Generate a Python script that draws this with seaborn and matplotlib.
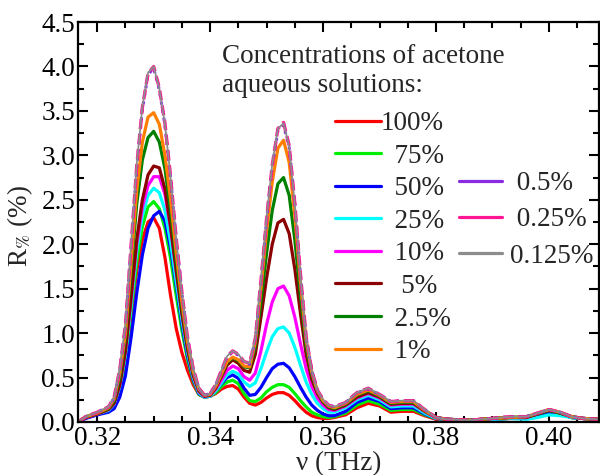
import numpy as np
import pandas as pd
import matplotlib
matplotlib.use('Agg')
import matplotlib.pyplot as plt
import seaborn as sns
from matplotlib.lines import Line2D
from matplotlib.ticker import MultipleLocator, FormatStrFormatter

# frequency grid (THz) and reflectance R% for each acetone concentration
freq = [0.3166, 0.318, 0.320, 0.322, 0.323, 0.324, 0.325, 0.326, 0.327, 0.328,
        0.329, 0.330, 0.331, 0.332, 0.333, 0.334, 0.335, 0.336, 0.337, 0.338,
        0.339, 0.340, 0.341, 0.342, 0.343, 0.344, 0.345, 0.346, 0.347, 0.348,
        0.349, 0.350, 0.351, 0.352, 0.353, 0.354, 0.355, 0.356, 0.357, 0.358,
        0.359, 0.360, 0.361, 0.362, 0.364, 0.366, 0.368, 0.370, 0.372, 0.374,
        0.376, 0.378, 0.380, 0.382, 0.386, 0.390, 0.393, 0.396, 0.398, 0.400,
        0.402, 0.404, 0.406, 0.409]

r_100 = [0.00, 0.05, 0.09, 0.13, 0.19, 0.37, 0.70, 1.20, 1.70, 2.05,
         2.25, 2.30, 2.18, 1.85, 1.42, 1.05, 0.78, 0.58, 0.42, 0.31,
         0.28, 0.29, 0.32, 0.37, 0.40, 0.41, 0.37, 0.28, 0.21, 0.19,
         0.22, 0.27, 0.31, 0.33, 0.33, 0.30, 0.24, 0.17, 0.11, 0.07,
         0.05, 0.04, 0.04, 0.05, 0.08, 0.16, 0.21, 0.18, 0.11, 0.12,
         0.12, 0.07, 0.03, 0.02, 0.02, 0.03, 0.04, 0.04, 0.08, 0.12,
         0.10, 0.05, 0.04, 0.03]
r_75 = [0.00, 0.05, 0.09, 0.13, 0.19, 0.38, 0.72, 1.25, 1.80, 2.20,
        2.42, 2.48, 2.40, 2.18, 1.84, 1.42, 1.03, 0.70, 0.46, 0.31,
        0.28, 0.29, 0.33, 0.40, 0.45, 0.47, 0.43, 0.32, 0.24, 0.23,
        0.27, 0.34, 0.39, 0.42, 0.42, 0.39, 0.32, 0.24, 0.17, 0.11,
        0.08, 0.06, 0.05, 0.06, 0.10, 0.19, 0.24, 0.20, 0.13, 0.14,
        0.14, 0.08, 0.04, 0.03, 0.02, 0.03, 0.04, 0.04, 0.07, 0.11,
        0.09, 0.05, 0.04, 0.03]
r_50 = [0.00, 0.04, 0.08, 0.11, 0.15, 0.28, 0.52, 0.95, 1.45, 1.88,
        2.18, 2.32, 2.37, 2.26, 1.95, 1.53, 1.10, 0.74, 0.48, 0.32,
        0.28, 0.29, 0.35, 0.43, 0.50, 0.53, 0.49, 0.38, 0.30, 0.31,
        0.39, 0.50, 0.60, 0.65, 0.66, 0.61, 0.51, 0.39, 0.28, 0.19,
        0.13, 0.09, 0.07, 0.07, 0.12, 0.22, 0.27, 0.23, 0.15, 0.16,
        0.16, 0.09, 0.04, 0.03, 0.02, 0.03, 0.04, 0.04, 0.07, 0.11,
        0.09, 0.05, 0.04, 0.03]
r_25 = [0.00, 0.05, 0.09, 0.13, 0.20, 0.40, 0.76, 1.32, 1.92, 2.32,
        2.55, 2.63, 2.58, 2.38, 2.02, 1.58, 1.15, 0.78, 0.50, 0.33,
        0.28, 0.29, 0.35, 0.44, 0.53, 0.57, 0.54, 0.45, 0.40, 0.44,
        0.60, 0.79, 0.96, 1.05, 1.07, 1.00, 0.84, 0.64, 0.45, 0.31,
        0.21, 0.15, 0.11, 0.11, 0.16, 0.25, 0.30, 0.25, 0.17, 0.18,
        0.18, 0.10, 0.04, 0.03, 0.02, 0.03, 0.04, 0.03, 0.05, 0.08,
        0.07, 0.05, 0.04, 0.03]
r_10 = [0.00, 0.05, 0.09, 0.14, 0.21, 0.42, 0.80, 1.38, 2.00, 2.42,
        2.66, 2.76, 2.76, 2.56, 2.18, 1.70, 1.22, 0.82, 0.52, 0.34,
        0.29, 0.30, 0.37, 0.47, 0.58, 0.63, 0.60, 0.51, 0.47, 0.55,
        0.80, 1.10, 1.35, 1.50, 1.53, 1.42, 1.18, 0.88, 0.60, 0.40,
        0.27, 0.19, 0.14, 0.13, 0.18, 0.27, 0.32, 0.27, 0.19, 0.20,
        0.20, 0.12, 0.05, 0.03, 0.02, 0.04, 0.05, 0.05, 0.09, 0.13,
        0.10, 0.06, 0.04, 0.03]
r_5 = [0.00, 0.05, 0.09, 0.14, 0.21, 0.42, 0.80, 1.40, 2.05, 2.50,
       2.78, 2.88, 2.86, 2.62, 2.20, 1.70, 1.22, 0.82, 0.53, 0.35,
       0.29, 0.30, 0.38, 0.51, 0.64, 0.70, 0.66, 0.58, 0.56, 0.76,
       1.18, 1.62, 2.00, 2.24, 2.28, 2.12, 1.72, 1.22, 0.76, 0.48,
       0.32, 0.22, 0.16, 0.14, 0.19, 0.28, 0.33, 0.28, 0.20, 0.21,
       0.21, 0.12, 0.05, 0.03, 0.02, 0.04, 0.05, 0.05, 0.09, 0.13,
       0.10, 0.06, 0.04, 0.03]
r_2_5 = [0.00, 0.06, 0.10, 0.15, 0.24, 0.50, 0.95, 1.70, 2.45, 2.95,
         3.20, 3.27, 3.15, 2.85, 2.38, 1.82, 1.30, 0.87, 0.55, 0.36,
         0.30, 0.31, 0.40, 0.53, 0.67, 0.72, 0.69, 0.62, 0.61, 0.85,
         1.35, 1.90, 2.38, 2.68, 2.75, 2.55, 2.05, 1.42, 0.85, 0.53,
         0.34, 0.23, 0.17, 0.15, 0.20, 0.30, 0.35, 0.29, 0.21, 0.22,
         0.22, 0.13, 0.05, 0.03, 0.02, 0.04, 0.05, 0.06, 0.09, 0.13,
         0.10, 0.06, 0.04, 0.03]
r_1 = [0.00, 0.06, 0.10, 0.16, 0.26, 0.55, 1.00, 1.80, 2.60, 3.15,
       3.43, 3.48, 3.35, 3.00, 2.50, 1.90, 1.35, 0.90, 0.57, 0.37,
       0.30, 0.31, 0.40, 0.54, 0.68, 0.73, 0.70, 0.63, 0.62, 0.90,
       1.50, 2.15, 2.70, 3.08, 3.17, 2.92, 2.32, 1.57, 0.92, 0.56,
       0.35, 0.24, 0.18, 0.16, 0.21, 0.31, 0.36, 0.30, 0.22, 0.23,
       0.23, 0.13, 0.05, 0.03, 0.02, 0.04, 0.05, 0.06, 0.10, 0.14,
       0.11, 0.06, 0.04, 0.03]
r_0_5 = [0.00, 0.06, 0.11, 0.17, 0.27, 0.58, 1.08, 1.96, 2.86, 3.52,
         3.91, 3.98, 3.74, 3.34, 2.74, 2.05, 1.45, 0.95, 0.60, 0.38,
         0.30, 0.32, 0.42, 0.57, 0.73, 0.79, 0.75, 0.67, 0.65, 0.93,
         1.57, 2.27, 2.88, 3.28, 3.34, 3.09, 2.45, 1.65, 0.95, 0.58,
         0.36, 0.25, 0.19, 0.17, 0.22, 0.33, 0.37, 0.31, 0.23, 0.24,
         0.24, 0.14, 0.05, 0.03, 0.02, 0.04, 0.06, 0.06, 0.10, 0.14,
         0.11, 0.06, 0.04, 0.03]
r_0_25 = [0.00, 0.06, 0.11, 0.17, 0.28, 0.59, 1.09, 1.98, 2.88, 3.54,
          3.92, 4.00, 3.76, 3.36, 2.76, 2.06, 1.46, 0.95, 0.60, 0.38,
          0.30, 0.32, 0.42, 0.58, 0.74, 0.80, 0.76, 0.68, 0.66, 0.94,
          1.59, 2.29, 2.89, 3.30, 3.37, 3.11, 2.46, 1.66, 0.96, 0.58,
          0.36, 0.25, 0.19, 0.17, 0.22, 0.33, 0.38, 0.31, 0.23, 0.24,
          0.24, 0.14, 0.05, 0.03, 0.02, 0.04, 0.06, 0.06, 0.10, 0.14,
          0.11, 0.06, 0.04, 0.03]
r_0_125 = [0.00, 0.06, 0.11, 0.17, 0.28, 0.60, 1.10, 2.00, 2.90, 3.55,
           3.93, 4.00, 3.75, 3.35, 2.75, 2.05, 1.45, 0.95, 0.60, 0.38,
           0.30, 0.32, 0.42, 0.58, 0.74, 0.80, 0.76, 0.68, 0.66, 0.95,
           1.60, 2.30, 2.90, 3.30, 3.36, 3.10, 2.45, 1.65, 0.95, 0.58,
           0.36, 0.25, 0.19, 0.17, 0.22, 0.33, 0.38, 0.31, 0.23, 0.24,
           0.24, 0.14, 0.05, 0.03, 0.02, 0.04, 0.06, 0.06, 0.10, 0.14,
           0.11, 0.06, 0.04, 0.03]

concs = ['100%', '75%', '50%', '25%', '10%', '5%', '2.5%', '1%', '0.5%', '0.25%', '0.125%']
series = [r_100, r_75, r_50, r_25, r_10, r_5, r_2_5, r_1, r_0_5, r_0_25, r_0_125]
colors = ['#ff0000', '#00ee00', '#0000ff', '#00ffff', '#ff00ff', '#8b0000',
          '#008000', '#ff8000', '#8a2be2', '#ff1493', '#8c8c8c']
# legend labels padded the way the original legend looks
leg_labels = ['100%', '  75%', '  50%', '  25%', '  10%', '   5%', '  2.5%', '  1%',
              ' 0.5%', ' 0.25%', '0.125%']

df = pd.concat([pd.DataFrame({'nu': freq, 'R': s, 'conc': c}) for c, s in zip(concs, series)])

sns.set_theme(style='ticks')
plt.rcParams['font.family'] = ['Liberation Serif', 'DejaVu Serif']
plt.rcParams['mathtext.fontset'] = 'stix'

FS = 19.5

fig = plt.figure(figsize=(6, 4.75), dpi=100)
ax = fig.add_axes([0.130, 0.1116, 0.869, 0.842])

styles = {'0.5%': dict(lw=2.2, ls=':'), '0.25%': dict(lw=2.4, ls=(0, (3, 1.5))),
          '0.125%': dict(lw=1.3, ls='-')}
for c, col in zip(concs, colors):
    kw = styles.get(c, dict(lw=2.3, ls='-'))
    sns.lineplot(data=df[df['conc'] == c], x='nu', y='R', color=col, ax=ax,
                 estimator=None, sort=False, linewidth=kw['lw'], linestyle=kw['ls'])

ax.set_xlim(0.3166, 0.40894)
ax.set_ylim(0, 4.5)
ax.xaxis.set_major_locator(MultipleLocator(0.02))
ax.xaxis.set_minor_locator(MultipleLocator(0.005))
ax.xaxis.set_major_formatter(FormatStrFormatter('%.2f'))
ax.yaxis.set_major_locator(MultipleLocator(0.5))
ax.yaxis.set_minor_locator(MultipleLocator(0.25))
ax.yaxis.set_major_formatter(FormatStrFormatter('%.1f'))
ax.tick_params(which='both', direction='in', top=True, right=True, width=1.5,
               color='black', labelsize=FS, labelcolor='black')
ax.tick_params(which='major', length=7)
ax.tick_params(which='minor', length=4)
ax.tick_params(axis='y', pad=2)
ax.tick_params(axis='x', pad=3)
for sp in ax.spines.values():
    sp.set_linewidth(1.6)
    sp.set_color('black')

ax.set_xlabel('ν (THz)', fontsize=FS, labelpad=0)
ax.set_ylabel('R$_{\\%}$ (%)', fontsize=FS)
ax.yaxis.set_label_coords(-0.083, 0.49)

handles = [Line2D([0], [0], color=col, lw=2.3) for col in colors]
leg1 = fig.legend(handles[:8], leg_labels[:8], loc='upper left',
                  bbox_to_anchor=(335 / 600, 1 - 111 / 475), frameon=False,
                  fontsize=FS, handlelength=1.7, handletextpad=0.0,
                  labelspacing=0.28, borderpad=0, borderaxespad=0)
leg2 = fig.legend(handles[8:], leg_labels[8:], loc='upper left',
                  bbox_to_anchor=(459 / 600, 1 - 171 / 475), frameon=False,
                  fontsize=FS, handlelength=1.6, handletextpad=0.3,
                  labelspacing=0.42, borderpad=0, borderaxespad=0)
fig.text(222 / 600, 1 - 44 / 475, 'Concentrations of acetone\naqueous solutions:',
         fontsize=FS, ha='left', va='top', linespacing=1.22)

fig.savefig('out.png', dpi=100)
